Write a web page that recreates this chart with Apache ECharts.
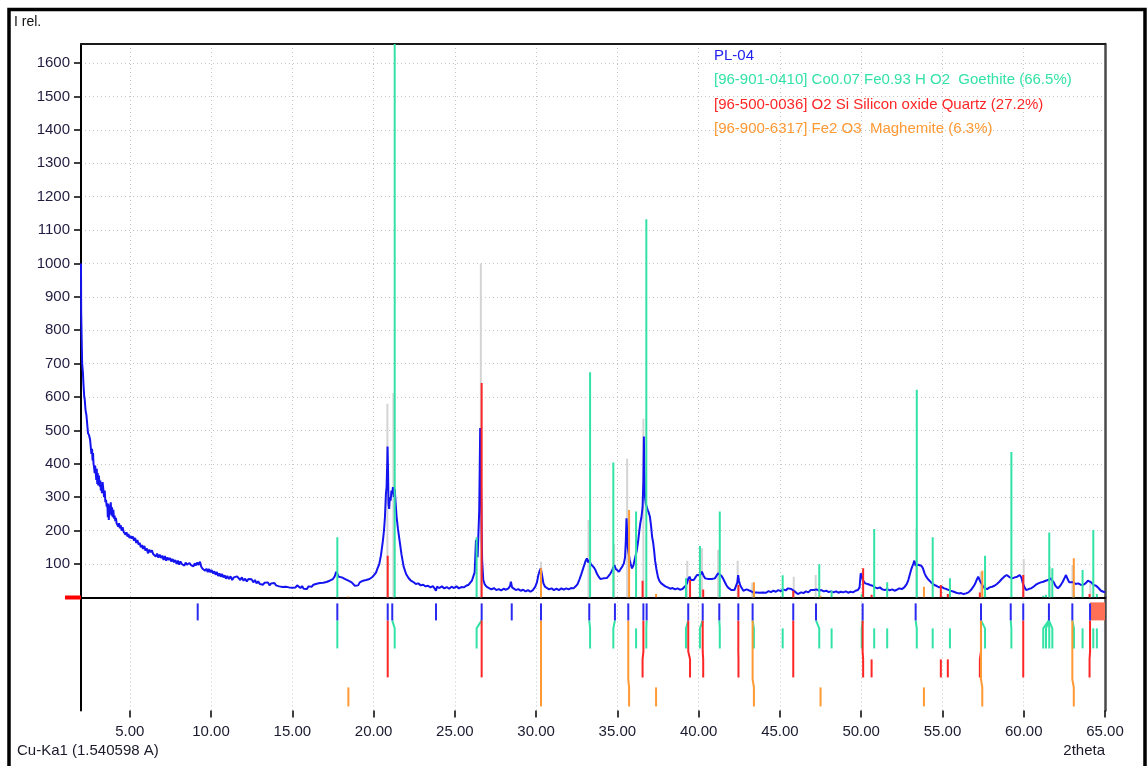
<!DOCTYPE html>
<html>
<head>
<meta charset="utf-8">
<script src="https://cdn.jsdelivr.net/npm/echarts@6/dist/echarts.min.js"></script>
<style>
html,body{margin:0;padding:0;background:#fff;}
#chart{width:1147px;height:766px;}
</style>
</head>
<body>
<div id="chart"></div>
<script>
// ---------------- DATA ----------------
const sampleName = 'PL-04';
const goethiteName = '[96-901-0410] Co0.07 Fe0.93 H O2  Goethite (66.5%)';
const quartzName = '[96-500-0036] O2 Si Silicon oxide Quartz (27.2%)';
const maghName = '[96-900-6317] Fe2 O3  Maghemite (6.3%)';

// measured pattern PL-04: [2theta, intensity]
const pattern = [
[2.00,1000],[2.01,857],[2.06,857],[2.07,700],[2.12,672],[2.15,640],[2.20,600],[2.23,592],[2.28,560],[2.33,547],[2.38,520],[2.43,492],[2.50,485],[2.56,472],
[2.60,470],[2.64,430],[2.68,445],[2.71,410],[2.74,432],[2.77,400],[2.80,392],[2.84,372],[2.87,395],[2.90,380],[2.94,352],[2.97,385],[3.00,340],[3.03,372],[3.06,335],[3.10,365],[3.13,345],[3.16,332],[3.19,350],[3.22,320],[3.25,340],[3.29,312],[3.33,345],[3.37,325],[3.42,300],[3.46,320],[3.50,285],[3.54,292],[3.58,272],[3.62,282],[3.65,240],[3.68,280],[3.71,232],[3.75,275],[3.79,250],[3.83,285],[3.87,245],[3.91,270],[3.95,240],[3.99,262],
[4.03,236],[4.07,245],[4.11,228],[4.15,238],[4.19,222],[4.24,226],[4.29,212],[4.34,222],[4.39,207],[4.44,216],[4.50,200],[4.56,210],[4.62,197],[4.68,200],[4.74,188],[4.80,195],[4.86,182],[4.92,190],[4.98,178],[5.05,184],[5.12,176],[5.19,182],[5.26,170],[5.33,178],[5.40,163],[5.47,172],[5.54,158],[5.61,164],[5.68,150],[5.75,157],[5.82,145],[5.90,154],[5.97,140],
[6.04,147],[6.12,132],[6.20,143],[6.28,135],[6.36,141],[6.44,130],[6.52,134],[6.60,122],[6.68,131],[6.76,119],[6.84,128],[6.92,118],[7.00,125],[7.08,112],[7.16,124],[7.24,110],[7.32,120],[7.40,112],[7.48,118],[7.56,107],[7.64,115],[7.72,105],[7.80,112],[7.88,100],[7.96,110],
[8.04,98],[8.12,108],[8.20,100],[8.28,105],[8.36,95],[8.44,104],[8.52,98],[8.60,93],[8.68,103],[8.76,97],[8.84,101],[8.92,93],[9.00,102],[9.08,96],[9.16,105],[9.24,97],[9.32,107],[9.40,92],[9.48,86],[9.56,90],[9.64,80],[9.72,86],[9.80,76],[9.88,85],[9.96,75],
[10.04,82],[10.12,72],[10.20,78],[10.28,68],[10.36,76],[10.44,64],[10.52,72],[10.60,62],[10.68,70],[10.76,60],[10.84,66],[10.92,56],[11.00,64],[11.10,55],[11.20,63],[11.30,52],[11.40,60],[11.50,55],[11.60,63],[11.70,58],[11.80,52],[11.90,60],
[12.00,50],[12.10,56],[12.20,48],[12.30,55],[12.40,50],[12.50,54],[12.60,45],[12.70,52],[12.80,42],[12.90,48],[13.00,40],[13.10,45],[13.20,38],[13.30,44],[13.40,40],[13.50,45],[13.60,36],[13.70,42],[13.80,38],[13.90,43],
[14.00,36],[14.10,41],[14.20,33],[14.30,38],[14.40,31],[14.50,36],[14.60,32],[14.70,37],[14.80,30],[14.90,35],[15.00,29],[15.10,34],[15.20,30],[15.30,36],[15.40,31],[15.50,28],[15.60,34],[15.70,26],[15.80,30],[15.90,25],
[16.00,33],[16.10,36],[16.20,32],[16.30,38],[16.40,35],[16.50,41],[16.60,37],[16.70,43],[16.80,39],[16.90,44],[17.00,40],[17.10,46],[17.20,42],[17.30,50],[17.40,48],[17.50,55],[17.60,62],[17.70,77],[17.78,70],[17.85,62],[17.95,65],
[18.05,60],[18.15,63],[18.25,55],[18.35,57],[18.45,50],[18.55,54],[18.65,45],[18.75,40],[18.85,35],[18.95,40],[19.05,36],[19.15,45],[19.25,42],[19.35,50],[19.45,46],[19.55,52],[19.65,48],[19.75,55],[19.85,52],[19.95,62],
[20.05,66],[20.15,74],[20.25,88],[20.35,100],[20.45,125],[20.52,150],[20.58,172],[20.64,200],[20.70,240],[20.76,310],[20.80,330],[20.84,400],[20.86,452],[20.89,380],[20.92,280],[20.96,265],[21.00,300],[21.05,290],[21.10,320],[21.15,310],[21.19,330],[21.24,300],[21.30,325],[21.36,280],[21.42,240],[21.50,205],[21.60,170],[21.72,128],[21.85,92],
[22.00,70],[22.15,58],[22.30,50],[22.45,46],[22.60,40],[22.75,42],[22.90,36],[23.05,38],[23.20,33],[23.35,35],[23.50,30],[23.65,34],[23.75,30],[23.84,20],[23.90,32],[24.05,28],[24.20,33],[24.35,27],[24.50,31],[24.65,26],[24.80,32],[24.95,28],
[25.10,33],[25.25,27],[25.40,31],[25.55,30],[25.70,35],[25.85,38],[25.95,42],[26.05,50],[26.13,62],[26.22,75],[26.30,172],[26.40,120],[26.50,260],[26.56,507],[26.62,300],[26.68,110],[26.75,52],[26.85,38],[26.95,32],
[27.10,28],[27.25,24],[27.40,28],[27.55,22],[27.70,25],[27.85,21],[28.00,26],[28.15,23],[28.30,27],[28.40,35],[28.45,47],[28.52,30],[28.60,25],[28.75,22],[28.90,25],[29.05,20],[29.20,23],[29.35,18],[29.50,22],[29.65,17],[29.80,22],[29.95,32],
[30.05,45],[30.14,67],[30.22,80],[30.29,87],[30.37,65],[30.45,42],[30.55,32],[30.65,28],[30.80,24],[30.95,27],[31.10,22],[31.25,26],[31.40,22],[31.55,27],[31.70,23],[31.85,27],[32.00,24],[32.15,28],[32.30,27],[32.45,34],[32.55,40],[32.65,52],[32.75,65],[32.85,80],[32.95,95],
[33.05,110],[33.12,117],[33.20,105],[33.28,112],[33.36,100],[33.45,105],[33.55,90],[33.65,82],[33.75,70],[33.85,62],[33.95,55],[34.05,52],[34.15,57],[34.25,53],[34.35,58],[34.45,62],[34.55,70],[34.65,78],[34.75,90],[34.82,97],[34.90,85],
[35.00,80],[35.10,77],[35.20,85],[35.30,92],[35.40,102],[35.47,120],[35.52,170],[35.56,237],[35.60,200],[35.64,150],[35.70,130],[35.76,112],[35.82,100],[35.90,87],[35.98,95],
[36.05,110],[36.12,125],[36.20,142],[36.28,170],[36.35,200],[36.42,225],[36.48,240],[36.55,270],[36.60,350],[36.63,482],[36.66,380],[36.70,300],[36.75,280],[36.80,272],[36.86,262],[36.92,255],
[37.00,242],[37.07,215],[37.14,180],[37.20,165],[37.26,140],[37.32,110],[37.40,85],[37.50,60],[37.60,48],[37.70,42],[37.80,37],[37.95,33],[38.10,30],[38.25,26],[38.40,28],[38.55,24],[38.70,27],[38.85,23],
[39.00,25],[39.10,28],[39.20,35],[39.28,42],[39.36,55],[39.44,62],[39.52,52],[39.60,48],[39.70,52],[39.80,60],[39.90,67],[40.00,72],[40.10,68],[40.20,77],[40.30,65],[40.40,57],[40.50,52],[40.60,55],[40.70,52],[40.80,55],[40.90,58],
[41.00,57],[41.10,65],[41.20,72],[41.30,77],[41.40,65],[41.50,57],[41.60,47],[41.70,37],[41.80,30],[41.90,25],[42.00,22],[42.10,26],[42.20,22],[42.30,27],[42.38,45],[42.43,67],[42.48,50],[42.55,37],[42.65,28],[42.75,20],[42.85,17],[42.95,24],
[43.05,27],[43.15,20],[43.25,22],[43.35,15],[43.45,19],[43.55,15],[43.65,18],[43.75,14],[43.85,19],[43.95,15],[44.05,18],[44.15,14],[44.30,19],[44.45,16],[44.60,20],[44.75,17],[44.90,22],
[45.05,19],[45.20,24],[45.35,21],[45.50,27],[45.60,22],[45.70,25],[45.80,27],[45.90,18],[46.00,14],[46.10,10],[46.20,12],[46.30,15],[46.45,13],[46.60,18],[46.75,15],[46.90,22],
[47.00,27],[47.10,22],[47.25,24],[47.40,20],[47.55,22],[47.70,18],[47.85,20],[48.00,16],[48.15,18],[48.30,15],[48.45,18],[48.60,14],[48.75,17],[48.90,15],[49.05,18],[49.20,14],[49.35,17],[49.50,15],[49.65,20],[49.80,22],[49.90,30],[49.97,72],
[50.05,60],[50.15,48],[50.25,42],[50.40,40],[50.55,37],[50.70,35],[50.85,30],[51.00,27],[51.15,30],[51.30,24],[51.45,22],[51.60,25],[51.75,21],[51.90,24],[52.05,20],[52.20,23],[52.35,27],[52.50,25],[52.65,30],[52.80,40],[52.90,52],
[53.00,70],[53.10,87],[53.20,100],[53.27,110],[53.35,95],[53.42,92],[53.50,98],[53.60,102],[53.70,95],[53.80,87],[53.90,72],[54.00,62],[54.10,55],[54.20,52],[54.30,45],[54.40,40],[54.50,37],[54.65,34],[54.80,30],[54.95,32],
[55.10,27],[55.25,25],[55.40,22],[55.55,19],[55.70,17],[55.85,14],[56.00,12],[56.15,13],[56.30,10],[56.45,12],[56.60,15],[56.75,22],[56.90,32],[57.00,40],[57.10,52],[57.20,62],[57.30,50],[57.40,42],[57.50,33],[57.60,27],[57.75,25],[57.90,30],
[58.05,32],[58.20,35],[58.35,40],[58.50,47],[58.65,55],[58.80,62],[58.95,67],[59.05,65],[59.15,60],[59.30,57],[59.45,60],[59.60,62],[59.75,67],[59.85,60],[59.95,42],
[60.05,30],[60.15,22],[60.30,25],[60.45,27],[60.60,32],[60.75,38],[60.90,42],[61.05,45],[61.20,47],[61.35,50],[61.50,52],[61.65,57],[61.75,55],[61.85,45],[61.95,35],
[62.10,27],[62.25,35],[62.40,47],[62.50,57],[62.60,67],[62.70,55],[62.80,45],[62.90,42],[63.05,45],[63.20,40],[63.35,42],[63.50,38],[63.65,37],[63.80,42],[63.95,50],
[64.05,52],[64.15,45],[64.30,37],[64.45,35],[64.60,28],[64.75,20],[64.90,17],[65.00,15]
];

// peak markers (blue row)
const peakPos = [9.18,17.77,20.87,21.15,23.84,26.65,28.5,30.3,33.27,34.85,35.67,36.6,36.8,39.36,40.25,41.27,42.44,43.32,45.82,47.22,50.09,53.35,57.37,59.2,59.97,61.55,62.99,64.08];
const selectedRange = [64.08, 65];

// Goethite reference lines
const goethitePos   = [17.77,21.3,26.34,33.32,34.75,36.15,36.78,39.22,40.08,41.3,43.4,45.17,47.42,48.18,50.03,50.8,51.6,53.42,54.4,55.46,57.62,59.24,61.2,61.37,61.57,61.76,63.09,63.62,64.28,64.5];
const goethiteInt   = [180,1700,180,674,404,257,1132,57,154,257,20,66,99,20,10,205,45,622,180,57,125,435,5,8,194,87,8,82,202,10];
const goethiteMatch = [17.77,21.15,26.65,33.27,34.85,null,36.8,39.36,40.25,41.27,43.32,null,47.22,null,50.09,null,null,53.35,null,null,57.37,59.2,61.55,61.55,61.55,61.55,62.99,null,null,null];

// Quartz reference lines
const quartzPos   = [20.87,26.65,36.55,39.47,40.28,42.45,45.82,50.12,50.64,54.9,55.33,57.3,59.97,64.05];
const quartzInt   = [125,642,50,52,24,37,20,87,8,37,10,15,67,10];
const quartzMatch = [20.87,26.65,36.6,39.36,40.25,42.44,45.82,50.09,null,null,null,57.37,59.97,64.08];

// Maghemite reference lines
const maghPos   = [18.45,30.3,35.72,37.38,43.4,47.5,53.86,57.45,63.08];
const maghInt   = [3,87,262,10,45,5,32,80,117];
const maghMatch = [null,30.3,35.67,null,43.32,null,null,57.37,62.99];

// light gray (calculated) sticks
const calcPos = [20.85,21.22,26.6,30.3,33.22,34.8,35.6,36.6,39.3,40.2,41.2,42.4,43.3,45.85,47.2,50.1,53.4,57.35,60.0,61.6,63.0,64.1];
const calcInt = [580,612,1000,107,232,160,415,535,110,147,142,110,44,62,67,77,207,77,115,92,97,42];

const xTickValues = [5,10,15,20,25,30,35,40,45,50,55,60,65];
const yTickValues = [100,200,300,400,500,600,700,800,900,1000,1100,1200,1300,1400,1500,1600];

// ---------------- STYLE ----------------
const C_BLUE = '#1414f0', C_GREEN = '#33e3a5', C_RED = '#ff2626', C_ORANGE = '#ff9933', C_GRAY = '#d4d4d4';
const Y_MAX = 1657;
const FONT = 'Liberation Sans, Arial, sans-serif';
const gridDot = {color:'#c4c4c4', width:1, type:[1,3]};

function stickSeries(name, pos, inten, color, z){
  return {
    type:'custom', name, xAxisIndex:0, yAxisIndex:0, z, clip:true, silent:true,
    data: pos.map((p,i)=>[p, inten[i]]), encode:{x:0,y:1},
    renderItem:(params, api)=>{
      const a = api.coord([api.value(0), 0]);
      const b = api.coord([api.value(0), Math.min(api.value(1), Y_MAX)]);
      return {type:'line', shape:{x1:a[0],y1:a[1],x2:b[0],y2:b[1]}, style:{stroke:color, lineWidth:2}};
    }
  };
}
// row geometry (pixel offsets below the zero line)
const ROWS = {blue:[6,23], green:[31,51], red:[62,80], orange:[90,109]};
function rowSeries(name, pos, match, row, color){
  return {
    type:'custom', name, xAxisIndex:2, yAxisIndex:2, z:5, silent:true,
    data: pos.map(p=>[p,0]), encode:{x:0,y:1},
    renderItem:(params, api)=>{
      const x = api.coord([api.value(0), 0])[0];
      const y0 = api.coord([api.value(0), 0])[1];
      const r = ROWS[row];
      const m = match ? match[params.dataIndex] : null;
      let pts;
      if (m !== null && m !== undefined) {
        const xm = api.coord([m, 0])[0];
        pts = [[xm, y0+ROWS.blue[1]], [xm, y0+r[0]-8], [x, y0+r[0]], [x, y0+r[1]]];
      } else {
        pts = [[x, y0+r[0]], [x, y0+r[1]]];
      }
      return {type:'polyline', shape:{points:pts}, style:{stroke:color, lineWidth:2, fill:null}};
    }
  };
}

const chart = echarts.init(document.getElementById('chart'), null, {renderer:'canvas'});
chart.setOption({
  animation:false,
  backgroundColor:'#ffffff',
  textStyle:{fontFamily:FONT},
  title:[
    {text:'I rel.', left:14, top:15, padding:0, textStyle:{fontSize:14, fontWeight:'normal', color:'#111', fontFamily:FONT}},
    {text:'Cu-Ka1 (1.540598 A)', left:17, top:743, padding:0, textStyle:{fontSize:15, fontWeight:'normal', color:'#1a1a2a', fontFamily:FONT}},
    {text:'2theta', right:42, top:743, padding:0, textStyle:{fontSize:15, fontWeight:'normal', color:'#1a1a2a', fontFamily:FONT}}
  ],
  legend:{
    orient:'vertical', left:709, top:47, itemWidth:0, itemHeight:17, itemGap:7.5, icon:'rect',
    selectedMode:false, padding:0,
    itemStyle:{opacity:0},
    textStyle:{fontSize:15, fontFamily:FONT},
    data:[
      {name:sampleName, textStyle:{color:'#2222ee'}},
      {name:goethiteName, textStyle:{color:C_GREEN}},
      {name:quartzName, textStyle:{color:C_RED}},
      {name:maghName, textStyle:{color:C_ORANGE}}
    ]
  },
  grid:[
    {left:81, right:42, top:44, height:553.4},
    {left:81, right:42, top:597.4, height:113}
  ],
  xAxis:[
    {gridIndex:0, type:'value', min:2, max:65, splitNumber:13,
     axisLine:{show:true, onZero:false, lineStyle:{color:'#000', width:2}},
     axisTick:{show:false}, axisLabel:{show:false},
     splitLine:{show:true, lineStyle:gridDot}},
    {gridIndex:0, type:'value', position:'top', min:2, max:65, splitNumber:13,
     axisLine:{show:true, onZero:false, lineStyle:{color:'#1a1a1a', width:2}},
     axisTick:{show:false}, axisLabel:{show:false}, splitLine:{show:false}},
    {gridIndex:1, type:'value', min:2, max:65, splitNumber:13,
     axisLine:{show:false, onZero:false},
     axisTick:{show:true, length:7, lineStyle:{color:'#000', width:1.5}, customValues:xTickValues},
     axisLabel:{customValues:xTickValues, margin:14, fontSize:15, color:'#1a1a2e', fontFamily:FONT,
       formatter:v=> v < 4 ? '' : v.toFixed(2)},
     splitLine:{show:true, lineStyle:gridDot}}
  ],
  yAxis:[
    {gridIndex:0, type:'value', min:0, max:Y_MAX, interval:100,
     axisLine:{show:true, onZero:false, lineStyle:{color:'#000', width:2}},
     axisTick:{show:true, length:7, lineStyle:{color:'#000', width:1.5}, customValues:yTickValues},
     axisLabel:{customValues:yTickValues, margin:11, fontSize:15, color:'#201c40', fontFamily:FONT,
       formatter:v=> (v>0 && v<=1600) ? String(v) : ''},
     splitLine:{show:true, lineStyle:gridDot}},
    {gridIndex:0, type:'value', position:'right', min:0, max:Y_MAX,
     axisLine:{show:true, onZero:false, lineStyle:{color:'#4a4a4a', width:2.5}},
     axisTick:{show:false}, axisLabel:{show:false}, splitLine:{show:false}},
    {gridIndex:1, type:'value', min:0, max:113, inverse:true,
     axisLine:{show:true, onZero:false, lineStyle:{color:'#000', width:2}},
     axisTick:{show:false}, axisLabel:{show:false}, splitLine:{show:false}},
    {gridIndex:1, type:'value', position:'right', min:0, max:113, inverse:true,
     axisLine:{show:true, onZero:false, lineStyle:{color:'#4a4a4a', width:2.5}},
     axisTick:{show:false}, axisLabel:{show:false}, splitLine:{show:false}}
  ],
  series:[
    stickSeries('calc', calcPos, calcInt, C_GRAY, 1),
    {type:'line', name:sampleName, xAxisIndex:0, yAxisIndex:0, z:2, silent:true,
     data: pattern, showSymbol:false, symbol:'none',
     lineStyle:{color:C_BLUE, width:2}, itemStyle:{color:C_BLUE}, clip:true},
    stickSeries(goethiteName, goethitePos, goethiteInt, C_GREEN, 3),
    stickSeries(quartzName, quartzPos, quartzInt, C_RED, 4),
    stickSeries(maghName, maghPos, maghInt, C_ORANGE, 4),
    // lower assignment diagram
    {type:'custom', name:'selection', xAxisIndex:2, yAxisIndex:2, z:4, silent:true,
     data:[[selectedRange[0], selectedRange[1]]], encode:{x:[0,1]},
     renderItem:(params, api)=>{
       const a = api.coord([api.value(0), 0]); const b = api.coord([api.value(1), 0]);
       return {type:'rect', shape:{x:a[0], y:a[1]+ROWS.blue[0]-1, width:b[0]-a[0], height:ROWS.blue[1]-ROWS.blue[0]+1}, style:{fill:'#ff7055'}};
     }},
    rowSeries(goethiteName, goethitePos, goethiteMatch, 'green', C_GREEN),
    rowSeries(quartzName, quartzPos, quartzMatch, 'red', C_RED),
    rowSeries(maghName, maghPos, maghMatch, 'orange', C_ORANGE),
    rowSeries('peaks', peakPos, null, 'blue', '#2a2af0')
  ],
  graphic:[
    {type:'rect', left:6.5, top:7, shape:{x:0,y:0,width:1136,height:800}, style:{fill:null, stroke:'#000', lineWidth:3.5}, silent:true, z:100},
    {type:'rect', left:65, top:595.5, shape:{x:0,y:0,width:16,height:4}, style:{fill:'#ff0000'}, silent:true, z:100}
  ]
});
</script>
</body>
</html>
